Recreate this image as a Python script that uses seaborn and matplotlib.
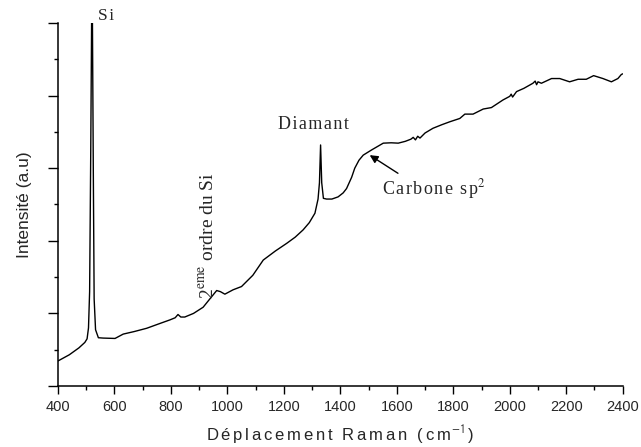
import matplotlib
matplotlib.use("Agg")
import matplotlib.pyplot as plt
from matplotlib.ticker import MultipleLocator, NullFormatter
import seaborn as sns
import pandas as pd

# Raman spectrum (wavenumber in cm-1, intensity in arbitrary units)
shift = [400, 440, 474, 495, 503, 508, 512, 516, 519, 522, 525, 528, 533, 543, 560,
         602, 631, 670, 714, 760, 796, 815, 825, 835, 849, 880, 914, 940, 962,
         975, 991, 1020, 1050, 1090, 1127, 1170, 1210, 1240, 1268, 1290, 1310,
         1321, 1326, 1330, 1334, 1340, 1351, 1370, 1392, 1410, 1422, 1440, 1451,
         1466, 1481, 1510, 1552, 1580, 1605, 1630, 1650, 1658, 1666, 1674, 1682,
         1700, 1728, 1760, 1788, 1823, 1841, 1870, 1906, 1935, 1976, 2000, 2005,
         2010, 2024, 2050, 2082, 2090, 2095, 2100, 2112, 2148, 2177, 2212, 2242,
         2271, 2297, 2330, 2360, 2383, 2395, 2400]
intensity = [0.69, 0.86, 1.05, 1.2, 1.3, 1.6, 2.6, 6.5, 10.0, 10.0, 6.0, 2.4, 1.55, 1.33, 1.32,
             1.31, 1.43, 1.5, 1.59, 1.72, 1.82, 1.88, 1.97, 1.9, 1.9, 2.0, 2.17, 2.42, 2.63,
             2.6, 2.53, 2.65, 2.74, 3.05, 3.47, 3.72, 3.93, 4.1, 4.3, 4.5, 4.76,
             5.15, 5.6, 6.64, 5.6, 5.17, 5.15, 5.15, 5.21, 5.32, 5.44, 5.75, 6.0,
             6.22, 6.36, 6.5, 6.69, 6.7, 6.69, 6.74, 6.8, 6.85, 6.78, 6.88, 6.83,
             6.97, 7.1, 7.2, 7.28, 7.37, 7.49, 7.49, 7.63, 7.67, 7.88, 7.98, 8.04,
             7.96, 8.11, 8.2, 8.34, 8.4, 8.3, 8.38, 8.34, 8.47, 8.47, 8.38, 8.45,
             8.45, 8.55, 8.47, 8.38, 8.47, 8.58, 8.6]

xticks = [400, 600, 800, 1000, 1200, 1400, 1600, 1800, 2000, 2200, 2400]

df = pd.DataFrame({"shift": shift, "intensity": intensity})

sns.set_style("ticks")
plt.rcParams["font.family"] = ["Liberation Sans", "DejaVu Sans"]
plt.rcParams["mathtext.fontset"] = "stix"

fig = plt.figure(figsize=(6.41, 4.47), dpi=100)
ax = fig.add_axes([58 / 641, 1 - 386 / 447, (622.7 - 58) / 641, (386 - 23) / 447])

sns.lineplot(data=df, x="shift", y="intensity", ax=ax, color="black",
             linewidth=1.0, estimator=None, sort=False)

ax.set_xlim(400, 2400)
ax.set_ylim(0, 10)
ax.set_xticks(xticks)
ax.set_xticklabels([str(t) for t in xticks], fontsize=10.5)
ax.xaxis.set_minor_locator(MultipleLocator(100))
ax.yaxis.set_major_locator(MultipleLocator(2))
ax.yaxis.set_minor_locator(MultipleLocator(1))
ax.yaxis.set_major_formatter(NullFormatter())

ax.tick_params(axis="both", which="major", direction="out", width=1.0, color="black")
ax.tick_params(axis="x", which="major", length=6)
ax.tick_params(axis="y", which="major", length=7.5)
ax.tick_params(axis="both", which="minor", direction="out", width=1.0, length=3, color="black")
ax.tick_params(axis="x", pad=4)

sns.despine(ax=ax)
for s in ("left", "bottom"):
    ax.spines[s].set_linewidth(1.1)
    ax.spines[s].set_color("black")


def spaced(s, gap="\u200a\u200a"):
    return gap.join(s)


ax.set_xlabel(spaced("Déplacement Raman (cm") + "\u200a" + r"$^{\mathsf{-1}}$" + "\u200a)",
              fontsize=12, labelpad=7)
ax.set_ylabel("Intensité (a.u)", fontsize=12.5, labelpad=8)

serif = ["Liberation Serif", "DejaVu Serif"]
ax.text(543, 10.08, spaced("Si", "\u200a"), family=serif, fontsize=12.5,
        ha="left", va="baseline", clip_on=False)
ax.text(1303, 7.07, spaced("Diamant", "\u200a"), family=serif, fontsize=13,
        ha="center", va="baseline")
ax.text(1548, 5.29, spaced("Carbone sp", "\u200a") + "$^2$", family=serif, fontsize=13,
        ha="left", va="baseline")
ax.text(931, 2.40, r"2$^{\mathrm{eme}}$ ordre du Si", family=serif,
        fontsize=14, rotation=90, ha="center", va="bottom")
ax.annotate("", xy=(1504, 6.36), xytext=(1604, 5.86),
            arrowprops=dict(arrowstyle="-|>", color="black", lw=1.0,
                            mutation_scale=12, shrinkA=0, shrinkB=0))

fig.savefig("out.png", dpi=100)
